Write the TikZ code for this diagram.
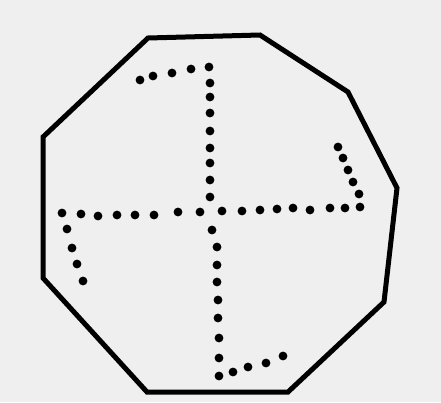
\documentclass[tikz,border=0pt]{standalone}
\usepackage{tikz}
\definecolor{paper}{RGB}{239,239,239}

\tikzset{
  rim/.style={draw=black, line width=5pt, line join=miter},
  spot/.style={fill=black}
}

\begin{document}
\begin{tikzpicture}[x=1pt, y=-1pt]
  % background sheet
  \fill[paper] (0,0) rectangle (441,402);
  \useasboundingbox (0,0) rectangle (441,402);
  % nine-sided rim
  \draw[rim] (148,38) -- (260,35) -- (348,92) -- (397,188) -- (384,302)
    -- (288,392) -- (147,392) -- (43,278) -- (43,137) -- cycle;
  % dotted cross with bent arms
  \foreach \p in {(140,80),(153,76),(172,73),(191,69),(209,67),
                  (210,83),(210,97),(210,113),(210,131),(210,148),(210,163),(210,180),(210,197),
                  (62,213),(81,214),(98,216),(117,215),(135,215),(154,215),(178,212),(200,212),
                  (222,211),(242,211),(260,210),(277,209),(293,208),(310,210),(330,208),(345,208),(360,207),
                  (338,147),(343,158),(348,170),(353,182),(359,194),
                  (67,229),(72,248),(77,264),(83,281),
                  (212,230),(217,247),(217,265),(217,282),(218,300),(218,318),(219,338),(219,358),(219,376),
                  (233,372),(248,367),(266,363),(283,356)}
    \fill[spot] \p circle (4.4);
\end{tikzpicture}
\end{document}
